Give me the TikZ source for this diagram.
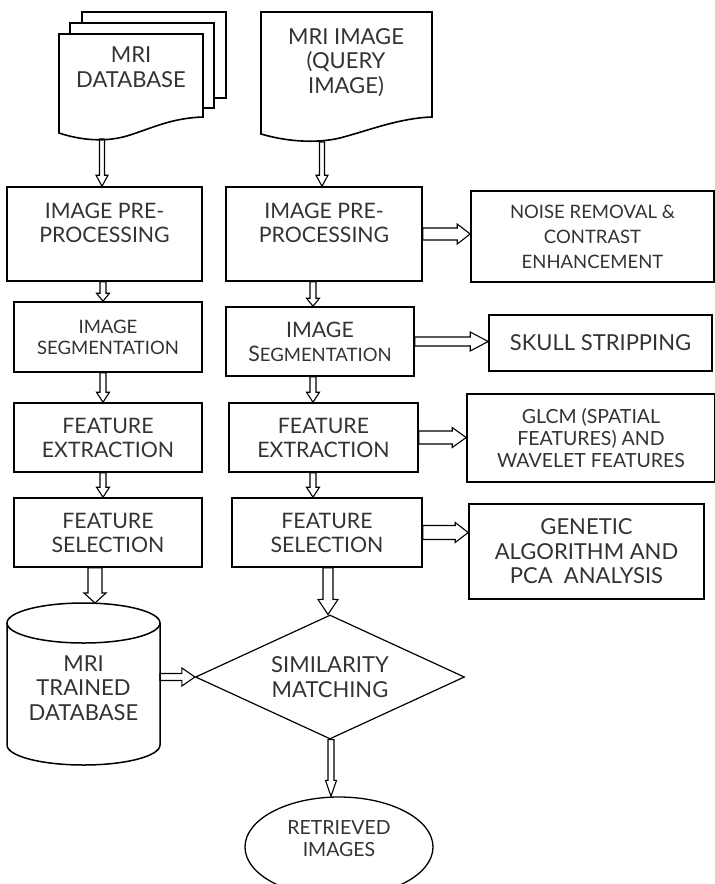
\documentclass[tikz,border=0pt]{standalone}
\usepackage{fontspec}
\setmainfont{Lato}
\usetikzlibrary{shapes.geometric,calc}

\newcommand\fbig{\fontsize{22}{24.5}\selectfont}
\newcommand\fmid{\fontsize{21.3}{24}\selectfont}
\newcommand\fsml{\fontsize{18.5}{21}\selectfont}
\newcommand\fnoise{\fontsize{18.5}{25}\selectfont}
\newcommand\fglcm{\fontsize{19.5}{22}\selectfont}

\tikzset{
  procbox/.style={draw, line width=1.6pt, rectangle, inner sep=0pt, align=center, text=black!80},
  txt/.style={inner sep=0pt, align=center, text=black!80},
  flow/.style={line width=1.1pt, line join=miter},
  blockdown/.style n args={3}{to path={let \p1=(\tikztostart), \p2=(\tikztotarget) in
    (\x2-#1,\y1) -- (\x2-#1,\y2+#3) -- (\x2-#2,\y2+#3) -- (\x2,\y2)
    -- (\x2+#2,\y2+#3) -- (\x2+#1,\y2+#3) -- (\x2+#1,\y1) -- cycle}},
  blockright/.style n args={3}{to path={let \p1=(\tikztostart), \p2=(\tikztotarget) in
    (\x1,\y1+#1) -- (\x2-#3,\y1+#1) -- (\x2-#3,\y1+#2) -- (\x2,\y1)
    -- (\x2-#3,\y1-#2) -- (\x2-#3,\y1-#1) -- (\x1,\y1-#1) -- cycle}}
}

\begin{document}
\begin{tikzpicture}[x=1pt,y=-1pt]
\useasboundingbox (0,0) rectangle (715,884);

% database pages
\draw[line width=1.6pt, fill=white] (82,12) rectangle (226,98);
\draw[line width=1.6pt, fill=white] (70,23) rectangle (214,108);
\draw[line width=1.6pt, fill=white] (59,34) -- (203,34) -- (203,117)
  .. controls (172,118) and (152,128) .. (130,135)
  .. controls (106,143) and (80,140) .. (59,133) -- cycle;
\node[txt, font=\fbig] (db) at (131,67) {MRI\\DATABASE};
\coordinate (dbout) at (102,139);

% query image
\draw[line width=1.6pt, fill=white] (261,12) -- (432,12) -- (432,117)
  .. controls (400,118) and (370,130) .. (340,138)
  .. controls (314,144) and (285,141) .. (261,134) -- cycle;
\node[txt, font=\fbig, text depth=0pt] (qi) at (346,61) {MRI IMAGE\\(QUERY\\IMAGE)};
\coordinate (qiout) at (322,142);

% left column
\node[procbox, minimum width=195, minimum height=94, font=\fmid] (pre1) at (104.5,234) {IMAGE PRE-\\PROCESSING\\[-1pt]\mbox{}};
\node[procbox, minimum width=188, minimum height=70, font=\fsml] (seg1) at (108,337) {IMAGE\\SEGMENTATION};
\node[procbox, minimum width=188, minimum height=69, font=\fmid] (fe1) at (108,437.5) {FEATURE\\EXTRACTION};
\node[procbox, minimum width=188, minimum height=69, font=\fmid] (fs1) at (108,532.5) {FEATURE\\SELECTION};

\draw[line width=1.5pt] (7,623) -- (7,745) arc[start angle=180, end angle=360, x radius=76.5pt, y radius=20pt] -- (160,623);
\draw[line width=1.5pt] (83.5,623) ellipse[x radius=76.5pt, y radius=20pt];
\node[txt, font=\fbig] (cyl) at (83.5,688) {MRI\\TRAINED\\DATABASE};
\coordinate (cyltop) at (95,603);
\coordinate (cylright) at (160,677);

% right column
\node[procbox, minimum width=196, minimum height=94, font=\fmid] (pre2) at (324,234) {IMAGE PRE-\\PROCESSING\\[-1pt]\mbox{}};
\node[procbox, minimum width=188, minimum height=69, font=\fmid] (seg2) at (320,341.5) {IMAGE\\S{\fsml EGMENTATION}};
\node[procbox, minimum width=189, minimum height=69, font=\fmid] (fe2) at (323.5,437.5) {FEATURE\\EXTRACTION};
\node[procbox, minimum width=190, minimum height=69, font=\fmid] (fs2) at (327,532.5) {FEATURE\\SELECTION};

\node[procbox, minimum width=243, minimum height=91, font=\fnoise] (noise) at (592.5,236.5) {NOISE REMOVAL \&\\CONTRAST\\ENHANCEMENT};
\node[procbox, minimum width=223, minimum height=56, font=\fbig] (skull) at (600.5,343) {SKULL STRIPPING};
\node[procbox, minimum width=248, minimum height=88, font=\fglcm] (glcm) at (591,438) {GLCM (SPATIAL\\FEATURES) AND\\WAVELET FEATURES};
\node[procbox, minimum width=235, minimum height=95, font=\fbig] (gen) at (586.5,551.5) {GENETIC\\ALGORITHM AND\\PCA\ \ ANALYSIS};

\node[draw, diamond, line width=1.2pt, aspect=2.17, minimum width=269, minimum height=124, inner sep=0pt, align=center, text=black!80, font=\fbig] (sim) at (330,677) {SIMILARITY\\MATCHING};
\node[draw, ellipse, line width=1.3pt, minimum width=188, minimum height=100, inner sep=0pt, align=center, text=black!80, font=\fglcm] (ret) at (339,847) {RETRIEVED\\IMAGES\\[-6pt]\mbox{}};

% arrows
\draw[flow, blockdown={2.5pt}{6pt}{11pt}] (dbout) to ([xshift=-2.5pt]pre1.north);
\draw[flow, blockdown={3pt}{6.5pt}{8pt}] (pre1.south) to ([xshift=-5pt]seg1.north);
\draw[flow, blockdown={3pt}{6.5pt}{10pt}] (seg1.south) to ([xshift=-5pt]fe1.north);
\draw[flow, blockdown={3pt}{6.5pt}{10pt}] (fe1.south) to ([xshift=-5pt]fs1.north);
\draw[flow, blockdown={7pt}{11pt}{10pt}] (fs1.south) to (cyltop);

\draw[flow, blockdown={2.5pt}{6pt}{11pt}] (qiout) to ([xshift=-2pt]pre2.north);
\draw[flow, blockdown={3pt}{6.5pt}{8pt}] (pre2.south) to ([xshift=-7pt]seg2.north);
\draw[flow, blockdown={3pt}{6.5pt}{10pt}] (seg2.south) to ([xshift=-10.5pt]fe2.north);
\draw[flow, blockdown={3pt}{6.5pt}{10pt}] (fe2.south) to ([xshift=-14pt]fs2.north);
\draw[flow, blockdown={5pt}{10pt}{15pt}] (fs2.south) to ([xshift=-2pt]sim.north);
\draw[flow, blockdown={3pt}{5.5pt}{16pt}] (sim.south) to ([xshift=-8pt]ret.north);

\draw[flow, blockright={6pt}{10pt}{13pt}] (pre2.east) to (noise.west);
\draw[flow, blockright={4.5pt}{9.5pt}{18pt}] (seg2.east) to (skull.west);
\draw[flow, blockright={6.5pt}{10pt}{14pt}] (fe2.east) to (glcm.west);
\draw[flow, blockright={7pt}{10pt}{13pt}] (fs2.east) to (gen.west);
\draw[flow, blockright={3.5pt}{9pt}{13pt}] (cylright) to (sim.west);
\end{tikzpicture}
\end{document}
